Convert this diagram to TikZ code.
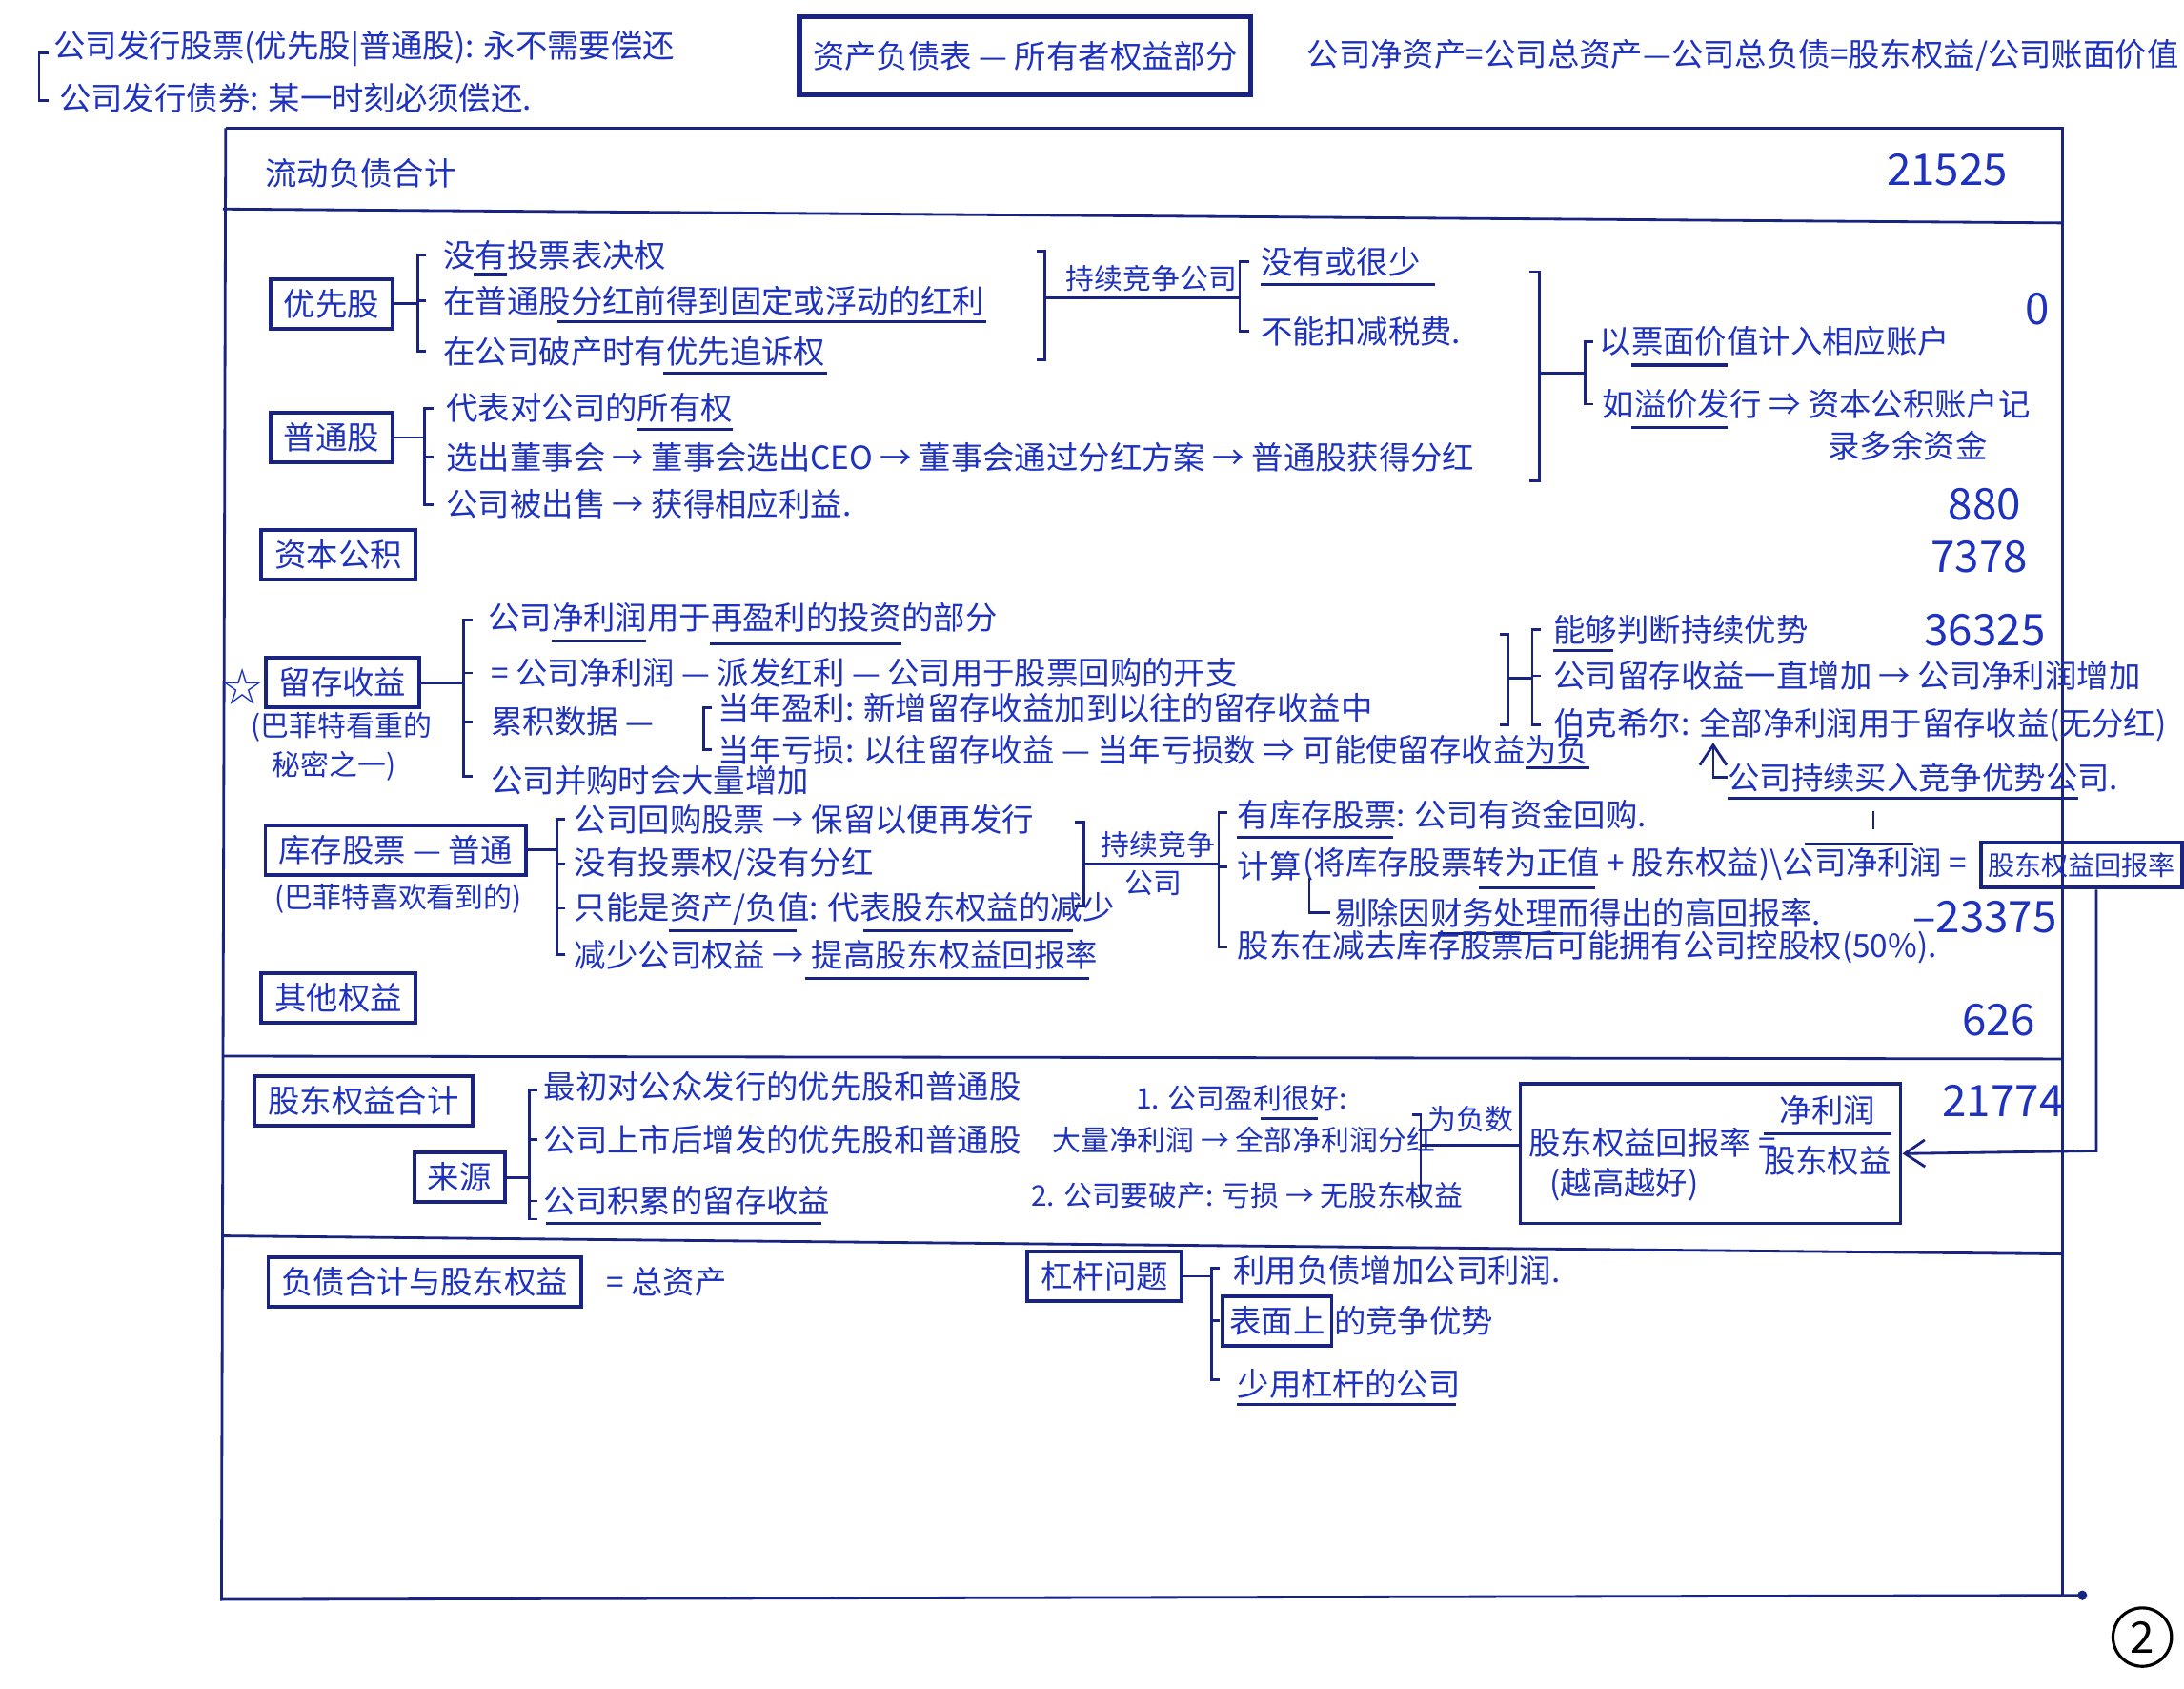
\documentclass[tikz,border=0pt]{standalone}
\usepackage{fontspec}
\setmainfont{Noto Sans CJK SC}
\usetikzlibrary{arrows.meta}
\definecolor{ink}{RGB}{30,50,190}
\definecolor{inkline}{RGB}{25,35,130}
\tikzset{
  txt/.style={text=ink, inner sep=0pt, font=\fontsize{9.5}{11}\selectfont},
  wtxt/.style={txt, anchor=west},
  stxt/.style={txt, font=\fontsize{8.5}{10}\selectfont},
  swtxt/.style={stxt, anchor=west},
  num/.style={text=ink, inner sep=0pt, font=\fontsize{13}{15}\selectfont},
  bx/.style={draw=inkline, line width=1.1pt, text=ink, inner xsep=4pt, inner ysep=3pt, font=\fontsize{9.5}{11}\selectfont},
  ln/.style={draw=inkline, line width=0.8pt},
  ul/.style={draw=inkline, line width=0.9pt},
  arr/.style={ln, -{Straight Barb[length=6pt,width=8pt]}}
}
\begin{document}
\begin{tikzpicture}[x=0.014617cm, y=-0.014617cm]
\useasboundingbox (0,0) rectangle (1568,1212);
\clip (0,0) rectangle (1568,1212);
\fill[white] (0,0) rectangle (1568,1212);

% ---------- top notes ----------
\node[wtxt] (t1) at (38,35) {公司发行股票(优先股|普通股): 永不需要偿还};
\node[wtxt] (t2) at (42,70) {公司发行债券: 某一时刻必须偿还.};
\draw[ln] (35,38) -- (28,38) -- (28,72) -- (35,72);
\node[bx, line width=1.5pt, minimum width=4.604cm, minimum height=0.819cm] (title) at (736,40) {资产负债表 — 所有者权益部分};
\node[wtxt] (t3) at (938,40) {公司净资产=公司总资产—公司总负债=股东权益/公司账面价值};

% ---------- frame ----------
\coordinate (fTL) at (162,92);
\coordinate (fTR) at (1481,92);
\coordinate (fBL) at (159,1148);
\coordinate (fBR) at (1481,1146);
\coordinate (fEnd) at (1495,1145);
\draw[ln] (fTL) -- (fTR) -- (fBR);
\draw[ln] (fTL) -- (fBL) -- (fEnd);
\fill[inkline] (fEnd) circle (3.5);
\draw[ln] (160,150) -- (1481,160);
\draw[ln] (160,758) -- (1481,760);
\draw[ln] (160,887) -- (1481,900);

\node[wtxt] (ldebt) at (190,124) {流动负债合计};
\node[num] (n21525) at (1398,122) {21525};

% ---------- preferred stock ----------
\node[bx] (pref) at (238,218) {优先股};
\draw[ln] (pref.east) -- (300,218);
\draw[ln] (306,183) -- (300,183) -- (300,252) -- (306,252);
\draw[ln] (300,216) -- (306,216);
\node[wtxt] (p1) at (318,183) {没有投票表决权};
\node[wtxt] (p2) at (318,216) {在普通股分红前得到固定或浮动的红利};
\node[wtxt] (p3) at (318,252) {在公司破产时有优先追诉权};
\draw[ul] (340,197) -- (364,197);
\draw[ul] (400,231) -- (708,231);
\draw[ul] (476,268) -- (594,268);
\draw[ln] (744,180) -- (750,180) -- (750,258) -- (744,258);
\node[stxt, anchor=south west] (cont1) at (765,210) {持续竞争公司};
\draw[ln] (750,214) -- (890,214);
\draw[ln] (897,188) -- (890,188) -- (890,238) -- (897,238);
\node[wtxt] (q1) at (905,188) {没有或很少};
\node[wtxt] (q2) at (905,238) {不能扣减税费.};
\draw[ul] (905,204) -- (1030,204);
\draw[ln] (1098,195) -- (1105,195) -- (1105,345) -- (1098,345);
\draw[ln] (1105,268) -- (1138,268);
\draw[ln] (1144,245) -- (1138,245) -- (1138,290) -- (1144,290);
\node[wtxt] (r1) at (1148,245) {以票面价值计入相应账户};
\node[wtxt] (r2) at (1150,290) {如溢价发行 ⇒ 资本公积账户记};
\node[wtxt] (r3) at (1312,320) {录多余资金};
\draw[ul] (1171,262) -- (1240,262);
\draw[ul] (1171,307) -- (1240,307);
\node[num] (n0) at (1463,222) {0};

% ---------- common stock ----------
\node[bx] (comm) at (238,314) {普通股};
\draw[ln] (comm.east) -- (305,314);
\draw[ln] (311,293) -- (305,293) -- (305,362) -- (311,362);
\draw[ln] (305,328) -- (311,328);
\node[wtxt] (c1) at (320,293) {代表对公司的所有权};
\node[wtxt] (c2) at (320,328) {选出董事会 → 董事会选出CEO → 董事会通过分红方案 → 普通股获得分红};
\node[wtxt] (c3) at (320,362) {公司被出售 → 获得相应利益.};
\draw[ul] (457,308) -- (526,308);
\node[num] (n880) at (1425,362) {880};

\node[bx] (capres) at (243,398) {资本公积};
\node[num] (n7378) at (1421,400) {7378};

% ---------- retained earnings ----------
\node[txt, font=\fontsize{12}{14}\selectfont] (star) at (174,493) {☆};
\node[bx] (ret) at (246,490) {留存收益};
\node[stxt, anchor=west] (rn1) at (180,522) {(巴菲特看重的};
\node[stxt, anchor=west] (rn2) at (195,550) {秘密之一)};
\draw[ln] (ret.east) -- (333,490);
\draw[ln] (339,445) -- (333,445) -- (333,557) -- (339,557);
\draw[ln] (333,483) -- (339,483);
\draw[ln] (333,518) -- (339,518);
\node[wtxt] (e1) at (350,443) {公司净利润用于再盈利的投资的部分};
\draw[ul] (396,460) -- (464,460);
\draw[ul] (510,462) -- (647,462);
\node[wtxt] (e2) at (352,483) {= 公司净利润 — 派发红利 — 公司用于股票回购的开支};
\node[wtxt] (e3) at (352,518) {累积数据 —};
\draw[ln] (511,508) -- (505,508) -- (505,538) -- (511,538);
\node[wtxt] (e3a) at (515,508) {当年盈利: 新增留存收益加到以往的留存收益中};
\node[wtxt] (e3b) at (515,538) {当年亏损: 以往留存收益 — 当年亏损数 ⇒ 可能使留存收益为负};
\draw[ul] (e3b.south east) ++(-46,2) -- ++(46,0);
\node[wtxt] (e4) at (352,560) {公司并购时会大量增加};
\draw[ln] (1077,455) -- (1083,455) -- (1083,520) -- (1077,520);
\draw[ln] (1083,487) -- (1100,487);
\draw[ln] (1106,452) -- (1100,452) -- (1100,520) -- (1106,520);
\draw[ln] (1100,485) -- (1106,485);
\node[wtxt] (g1) at (1115,452) {能够判断持续优势};
\draw[ul] (1115,467) -- (1158,467);
\node[wtxt] (g2) at (1115,485) {公司留存收益一直增加 → 公司净利润增加};
\node[wtxt] (g3) at (1115,520) {伯克希尔: 全部净利润用于留存收益(无分红)};
\node[wtxt] (g4) at (1240,558) {公司持续买入竞争优势公司.};
\draw[ul] (1240,573) -- (1492,573);
\draw[arr] (g4.west) -| (1230,533);
\node[num] (n36325) at (1425,452) {36325};

% ---------- treasury stock ----------
\node[bx] (treas) at (284,610) {库存股票 — 普通};
\node[stxt] (treasnote) at (286,645) {(巴菲特喜欢看到的)};
\draw[ln] (treas.east) -- (400,610);
\draw[ln] (406,588) -- (400,588) -- (400,685) -- (406,685);
\draw[ln] (400,620) -- (406,620);
\draw[ln] (400,652) -- (406,652);
\node[wtxt] (s1) at (412,588) {公司回购股票 → 保留以便再发行};
\node[wtxt] (s2) at (412,620) {没有投票权/没有分红};
\node[wtxt] (s3) at (412,652) {只能是资产/负值: 代表股东权益的减少};
\draw[ul] (480,668) -- (572,668);
\draw[ul] (620,668) -- (770,668);
\node[wtxt] (s4) at (412,685) {减少公司权益 → 提高股东权益回报率};
\draw[ul] (578,702) -- (782,702);
\draw[ln] (772,590) -- (778,590) -- (778,650) -- (772,650);
\draw[ln] (778,620) -- (790,620);
\node[stxt, anchor=south west] (k1) at (790,616) {持续竞争};
\node[stxt] (k2) at (828,634) {公司};
\draw[ln] (790,620) -- (875,620);
\draw[ln] (881,583) -- (875,583) -- (875,680) -- (881,680);
\draw[ln] (875,622) -- (881,622);
\node[wtxt] (h1) at (888,585) {有库存股票: 公司有资金回购.};
\draw[ul] (888,601) -- (1000,601);
\node[wtxt] (h2) at (888,622) {计算};
\node[wtxt] (h2b) at (935,620) {(将库存股票转为正值 + 股东权益)\textbackslash 公司净利润 =};
\draw[ul] (1062,637) -- (1145,637);
\draw[ul] (1296,606) -- (1374,606);
\draw[ln] (1345,582) -- (1345,595);
\node[bx, anchor=west, inner xsep=2pt, font=\fontsize{8}{10}\selectfont] (roetop) at (1421,621) {股东权益回报率};
\draw[ln] (940,630) -- (940,655) -- (955,655);
\node[wtxt] (h3) at (958,655) {剔除因财务处理而得出的高回报率.};
\draw[ul] (1032,670) -- (1122,670);
\node[wtxt] (h4) at (888,680) {股东在减去库存股票后可能拥有公司控股权(50\%).};
\node[num] (n23375) at (1425,658) {–23375};

\node[bx] (other) at (243,716) {其他权益};
\node[num] (n626) at (1435,732) {626};

% ---------- shareholders' equity ----------
\node[bx] (eqt) at (261,790) {股东权益合计};
\node[bx] (src) at (330,845) {来源};
\draw[ln] (src.east) -- (380,845);
\draw[ln] (386,782) -- (380,782) -- (380,875) -- (386,875);
\draw[ln] (380,818) -- (386,818);
\draw[ln] (380,862) -- (386,862);
\node[wtxt] (f1) at (390,780) {最初对公众发行的优先股和普通股};
\node[wtxt] (f2) at (390,818) {公司上市后增发的优先股和普通股};
\node[wtxt] (f3) at (390,862) {公司积累的留存收益};
\draw[ul] (392,878) -- (590,878);
\node[swtxt] (w1) at (815,788) {1. 公司盈利很好:};
\draw[ul] (905,803) -- (946,803);
\node[swtxt] (w2) at (755,818) {大量净利润 → 全部净利润分红};
\node[swtxt] (w3) at (740,858) {2. 公司要破产: 亏损 → 无股东权益};
\node[draw=inkline, line width=1.1pt, minimum width=3.99cm, minimum height=1.462cm, inner sep=0pt] (roebox) at (1228,828) {};
\draw[ln] (1014,800) -- (1020,800) -- (1020,862) -- (1014,862);
\draw[ln] (1020,822) -- (roebox.west |- 0,822);
\node[stxt] (neg) at (1056,803) {为负数};
\node[wtxt] (roe1) at (1097,820) {股东权益回报率 =};
\node[txt] (roe2) at (1166,850) {(越高越好)};
\node[txt] (fr1) at (1312,797) {净利润};
\node[txt] (fr2) at (1312,833) {股东权益};
\draw[ul] (1266,814) -- (1358,814);
\node[num] (n21774) at (1438,790) {21774};
\coordinate (turn) at (1505,826);
\draw[arr] (roetop.south -| turn) -- (turn) -- (roebox.east);

% ---------- bottom ----------
\node[bx] (liab) at (305,920) {负债合计与股东权益};
\node[wtxt] (tot) at (435,920) {= 总资产};
\node[bx] (lev) at (793,916) {杠杆问题};
\draw[ln] (lev.east) -- (870,916);
\draw[ln] (876,910) -- (870,910) -- (870,990) -- (876,990);
\draw[ln] (870,948) -- (876,948);
\node[wtxt] (v1) at (885,912) {利用负债增加公司利润.};
\node[bx, inner xsep=2pt] (surf) at (917,948) {表面上};
\node[wtxt] (v2) at (surf.east) {的竞争优势};
\node[wtxt] (v3) at (888,993) {少用杠杆的公司};
\draw[ul] (888,1008) -- (1045,1008);

\node[draw=black, line width=0.9pt, circle, inner sep=2pt, font=\fontsize{13}{15}\selectfont] (pg) at (1538,1175) {2};
\end{tikzpicture}
\end{document}
